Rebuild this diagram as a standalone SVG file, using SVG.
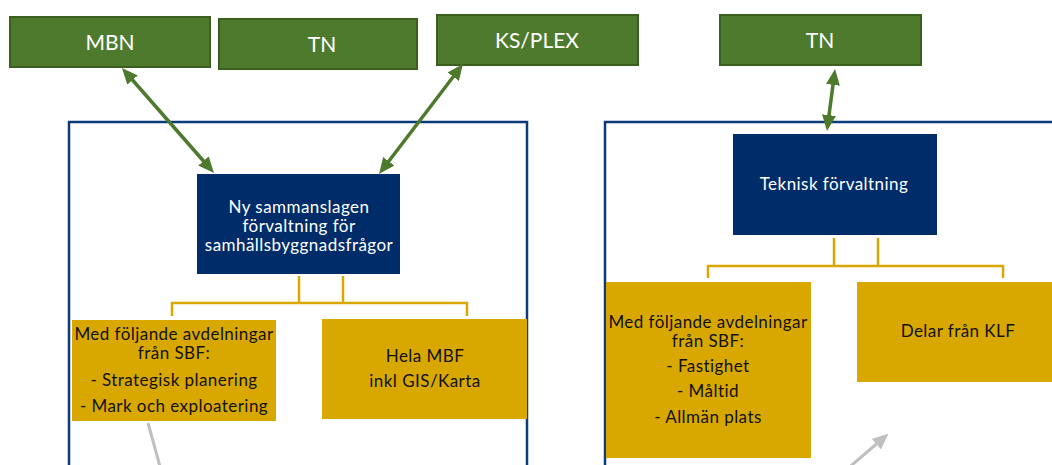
<svg xmlns="http://www.w3.org/2000/svg" width="1052" height="465" viewBox="0 0 1052 465">
<style>
.g{fill:#4e7a2e;stroke:#3a5f1f;stroke-width:2}
.gt{fill:#ffffff;font-family:Lato,"Noto Sans",sans-serif;font-size:21px;text-anchor:middle}
.frame{fill:none;stroke:#0d3a7a;stroke-width:2.5}
.n{fill:#002d6a}
.nt{fill:#ffffff;font-family:Lato,"Noto Sans",sans-serif;font-size:17px;letter-spacing:0.45px;text-anchor:middle}
.y{fill:#d9a800}
.yt{fill:#111111;font-family:Lato,"Noto Sans",sans-serif;font-size:17px;letter-spacing:0.45px;text-anchor:middle}
.yl{fill:none;stroke:#d9a800;stroke-width:2.5}
.ga{fill:none;stroke:#4e7a2e;stroke-width:3.5;marker-start:url(#ah);marker-end:url(#ah)}
.gr{fill:none;stroke:#bfbfbf;stroke-width:3}
</style>
<defs>
<marker id="ah" markerUnits="userSpaceOnUse" markerWidth="16" markerHeight="14" refX="4" refY="7" orient="auto-start-reverse" viewBox="0 0 16 14">
<path d="M0,0 L16,7 L0,14 z" fill="#4e7a2e"/>
</marker>
<marker id="gh" markerUnits="userSpaceOnUse" markerWidth="16" markerHeight="14" refX="4" refY="7" orient="auto" viewBox="0 0 16 14">
<path d="M0,0 L16,7 L0,14 z" fill="#bfbfbf"/>
</marker>
</defs>
<rect width="1052" height="465" fill="#ffffff"/>
<g id="frame-left"><rect class="frame" x="69" y="122" width="458" height="360"/></g>
<g id="frame-right"><rect class="frame" x="605" y="122" width="470" height="360"/></g>
<g id="mbn"><rect class="g" x="10" y="17" width="200" height="50"/><text class="gt" x="110" y="50">MBN</text></g>
<g id="tn-left"><rect class="g" x="219" y="19" width="198" height="50"/><text class="gt" x="322" y="52">TN</text></g>
<g id="ksplex"><rect class="g" x="437" y="15" width="201" height="50"/><text class="gt" x="537" y="48">KS/PLEX</text></g>
<g id="tn-right"><rect class="g" x="720" y="15" width="201" height="50"/><text class="gt" x="820" y="48">TN</text></g>
<g id="ny-forvaltning"><rect class="n" x="197" y="174" width="203" height="100"/>
<text class="nt" x="299" y="213">Ny sammanslagen</text>
<text class="nt" x="299" y="232">förvaltning för</text>
<text class="nt" x="299" y="251">samhällsbyggnadsfrågor</text></g>
<g id="teknisk-forvaltning"><rect class="n" x="733" y="134" width="204" height="101"/>
<text class="nt" x="834" y="190">Teknisk förvaltning</text></g>
<g id="sbf-left"><rect class="y" x="72" y="320" width="204" height="101"/>
<text class="yt" x="174" y="340">Med följande avdelningar</text>
<text class="yt" x="174" y="359">från SBF:</text>
<text class="yt" x="174" y="386">- Strategisk planering</text>
<text class="yt" x="174" y="412">- Mark och exploatering</text></g>
<g id="mbf"><rect class="y" x="322" y="319" width="205" height="100"/>
<text class="yt" x="425" y="362">Hela MBF</text>
<text class="yt" x="425" y="387">inkl GIS/Karta</text></g>
<g id="sbf-right"><rect class="y" x="606" y="282" width="205" height="176"/>
<text class="yt" x="708" y="328">Med följande avdelningar</text>
<text class="yt" x="708" y="347">från SBF:</text>
<text class="yt" x="708" y="372">- Fastighet</text>
<text class="yt" x="708" y="397">- Måltid</text>
<text class="yt" x="708" y="423">- Allmän plats</text></g>
<g id="klf"><rect class="y" x="857" y="282" width="205" height="100"/>
<text class="yt" x="958" y="337">Delar från KLF</text></g>
<g id="connectors">
<path class="yl" d="M299,276 V303 M343,276 V303 M172,316 V303 H467 V316"/>
<path class="yl" d="M834,238 V266 M878,238 V266 M708,278 V266 H1003 V278"/>
<line class="ga" x1="129.9" y1="77" x2="206.1" y2="164"/>
<line class="ga" x1="455.7" y1="73.5" x2="386.3" y2="164.5"/>
<line class="ga" x1="833.5" y1="80.9" x2="828.5" y2="119.1"/>
<line class="gr" x1="148" y1="423" x2="161" y2="470"/>
<line class="gr" x1="846" y1="470" x2="879.4" y2="441.5" marker-end="url(#gh)"/>
</g>
</svg>
